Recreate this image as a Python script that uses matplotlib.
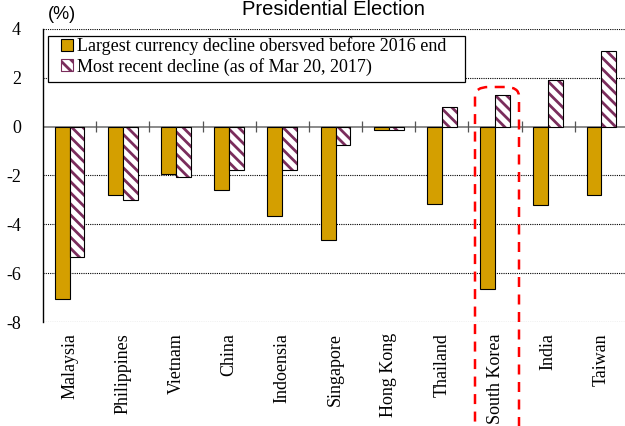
import numpy as np
import matplotlib.pyplot as plt
from matplotlib.patches import Patch, FancyBboxPatch, Rectangle

countries = ["Malaysia", "Philippines", "Vietnam", "China", "Indoensia", "Singapore",
             "Hong Kong", "Thailand", "South Korea", "India", "Taiwan"]
largest_decline = [-7.05, -2.8, -1.93, -2.6, -3.66, -4.64, -0.15, -3.18, -6.63, -3.22, -2.8]
recent_decline = [-5.33, -3.0, -2.05, -1.79, -1.76, -0.74, -0.12, 0.82, 1.3, 1.91, 3.09]
yticks = [4, 2, 0, -2, -4, -6, -8]

gold = "#D49F00"
purple = "#7A2D5C"
serif = "Liberation Serif"

plt.rcParams['hatch.linewidth'] = 2.0

fig = plt.figure(figsize=(6.25, 4.26), dpi=100)
ax = fig.add_axes([0.0688, 0.2441, 0.936, 0.688])

x = np.arange(len(countries))
w = 0.28
ax.bar(x - w / 2, largest_decline, w, color=gold, edgecolor="black", linewidth=0.8, zorder=3)
# hatch in purple, outline in black on top
ax.bar(x + w / 2, recent_decline, w, color="white", edgecolor=purple, hatch="\\\\\\",
       linewidth=0, zorder=3)
ax.bar(x + w / 2, recent_decline, w, fill=False, edgecolor="black", linewidth=0.8, zorder=4)

ax.set_xlim(-0.5, len(countries) - 0.5)
ax.set_ylim(-8, 4)
ax.set_yticks(yticks)
ax.set_yticklabels([str(t) for t in yticks], family=serif, fontsize=13)
ax.tick_params(axis="y", length=0, pad=16)
ax.set_xticks(x)
ax.set_xticklabels(countries, rotation=90, family=serif, fontsize=13)
ax.tick_params(axis="x", length=0, pad=8)

for t in yticks:
    if t != 0:
        ax.axhline(t, color="black", linestyle=(0, (1, 1)), linewidth=0.8, zorder=1)
ax.axhline(0, color="#777777", linewidth=1.2, zorder=2)
ax.vlines(x[:-1] + 0.5, -0.22, 0.22, color="#555555", linewidth=0.9, zorder=2)

for s in ["top", "right", "bottom"]:
    ax.spines[s].set_visible(False)
ax.spines["left"].set_linewidth(1.0)

# legend frame drawn separately so the padding matches
frame = Rectangle((48 / 625, 1 - 82 / 426), 417 / 625, 46 / 426, transform=fig.transFigure,
                  facecolor="white", edgecolor="black", linewidth=0.9, zorder=5)
fig.patches.append(frame)

handles = [Patch(facecolor=gold, edgecolor="black", linewidth=0.8),
           Patch(facecolor="white", edgecolor=purple, hatch="\\\\\\", linewidth=0.8)]
leg = fig.legend(handles, ["Largest currency decline obersved before 2016 end",
                           "Most recent decline (as of Mar 20, 2017)"],
                 loc="upper left", bbox_to_anchor=(61 / 625, 1 - 37 / 426),
                 bbox_transform=fig.transFigure, prop={"family": serif, "size": 13},
                 frameon=False, handlelength=0.65, handleheight=0.65, handletextpad=0.25,
                 borderpad=0, labelspacing=0.15, borderaxespad=0)
leg.set_zorder(6)

fig.text(0.077, 0.955, "(%)", fontsize=13, family="Liberation Sans")
fig.text(0.533, 0.978, "Presidential Election", fontsize=14.5, family="Liberation Sans",
         ha="center", va="center")

box = FancyBboxPatch((475 / 625, -0.05), 44 / 625, 1 - 87 / 426 + 0.05,
                     boxstyle="round,pad=0,rounding_size=0.022", transform=fig.transFigure,
                     fill=False, edgecolor="red", linestyle=(0, (4, 3)), linewidth=1.8,
                     clip_on=False, zorder=10)
fig.patches.append(box)

fig.savefig("out.png", dpi=100)
